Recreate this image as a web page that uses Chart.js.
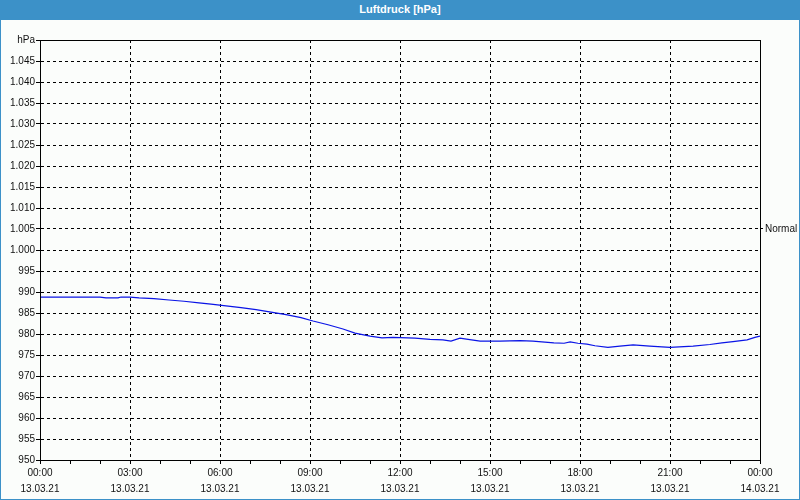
<!DOCTYPE html>
<html>
<head>
<meta charset="utf-8">
<script src="https://cdn.jsdelivr.net/npm/chart.js@4/dist/chart.umd.min.js"></script>
<style>
  html, body { margin: 0; padding: 0; background: #fbfdfb; }
  #wrap { position: relative; width: 800px; height: 500px; box-sizing: border-box;
          border: 1px solid #3c91c8; border-top: none; background: #fbfdfb; }
  #bar { position: absolute; left: -1px; top: 0; width: 800px; height: 20px; background: #3c91c8;
         color: #fff; font: bold 11px "Liberation Sans", sans-serif; text-align: center; line-height: 19px; }
  canvas { position: absolute; left: -1px; top: 0; }
</style>
</head>
<body>
<div id="wrap">
  <canvas id="c" width="800" height="500"></canvas>
  <div id="bar">Luftdruck [hPa]</div>
</div>
<script>
// hours since 13.03.21 00:00
const hours = [0, 1, 2, 2.2, 2.6, 2.7, 3.0, 3.3, 3.8, 4.3, 4.8, 5.3, 5.7, 6.2, 6.7, 7.2, 7.7, 8.2, 8.7,
  9.1, 9.6, 10.1, 10.5, 11.0, 11.4, 11.77, 12.5, 13.0, 13.43, 13.7, 14.0, 14.27, 14.67, 15.33, 16.0,
  16.43, 17.13, 17.47, 17.67, 17.93, 18.23, 18.5, 18.93, 19.33, 19.77, 20.33, 21.0, 21.77, 22.33,
  22.73, 23.1, 23.57, 23.83, 24];
const pressure = [988.8, 988.8, 988.8, 988.6, 988.6, 988.8, 988.8, 988.6, 988.4, 988.1, 987.8, 987.4,
  987.1, 986.7, 986.3, 985.8, 985.2, 984.6, 983.9, 983.1, 982.2, 981.2, 980.2, 979.5, 979.1, 979.2,
  979.0, 978.7, 978.6, 978.3, 979.0, 978.7, 978.3, 978.3, 978.4, 978.3, 977.9, 977.8, 978.1, 977.8,
  977.6, 977.2, 976.8, 977.1, 977.4, 977.1, 976.8, 977.1, 977.5, 977.9, 978.2, 978.6, 979.2, 979.5];
const timeLabels = ['00:00', '03:00', '06:00', '09:00', '12:00', '15:00', '18:00', '21:00', '00:00'];
const dateLabels = ['13.03.21', '13.03.21', '13.03.21', '13.03.21', '13.03.21', '13.03.21', '13.03.21', '13.03.21', '14.03.21'];
const yMin = 950, yMax = 1050;
const normalValue = 1005;

const font = {family: '"Liberation Sans", "DejaVu Sans", sans-serif', size: 10, lineHeight: 1.6};

function fmtPressure(v) {
  if (v >= yMax) return 'hPa';
  if (v >= 1000) return '1.' + String(v - 1000).padStart(3, '0');
  return String(v);
}

const frame = {
  id: 'frame',
  afterDatasetsDraw(chart) {
    const a = chart.chartArea, ctx = chart.ctx;
    ctx.save();
    ctx.strokeStyle = '#000';
    ctx.lineWidth = 1;
    ctx.strokeRect(a.left + 0.5, a.top + 0.5, a.right - a.left, a.bottom - a.top);
    ctx.restore();
  }
};

new Chart(document.getElementById('c'), {
  type: 'line',
  data: {
    datasets: [{
      data: hours.map((h, i) => ({x: h, y: pressure[i]})),
      borderColor: '#0a14e6',
      borderWidth: 1.2,
      pointRadius: 0,
      tension: 0
    }]
  },
  options: {
    responsive: false,
    animation: false,
    layout: {padding: {top: 40, right: 0, left: 0, bottom: 0}},
    plugins: {legend: {display: false}, tooltip: {enabled: false}},
    scales: {
      x: {
        type: 'linear', min: 0, max: 24,
        afterFit(s) { s.height = 40; },
        ticks: {
          stepSize: 1, autoSkip: false, maxRotation: 0, padding: 1, color: '#111', font,
          callback: v => v % 3 === 0 ? [timeLabels[v / 3], dateLabels[v / 3]] : ''
        },
        grid: {
          color: c => c.tick && c.tick.value % 3 === 0 ? '#000' : 'rgba(0,0,0,0)',
          tickColor: '#000', tickLength: 4, lineWidth: 1
        },
        border: {color: '#000', dash: [3, 3]}
      },
      y: {
        min: yMin, max: yMax,
        afterFit(s) { s.width = 40; },
        ticks: {stepSize: 5, padding: 1, color: '#111', font, callback: v => fmtPressure(v)},
        grid: {color: '#000', tickColor: '#000', tickLength: 4},
        border: {color: '#000', dash: [3, 3]}
      },
      yr: {
        position: 'right', min: yMin, max: yMax,
        afterFit(s) { s.width = 40; },
        afterBuildTicks(s) { s.ticks = [{value: normalValue}]; },
        ticks: {padding: 2, color: '#111', font, callback: () => 'Normal'},
        grid: {drawOnChartArea: false, tickColor: '#000', tickLength: 3},
        border: {display: false}
      }
    }
  },
  plugins: [frame]
});
</script>
</body>
</html>
